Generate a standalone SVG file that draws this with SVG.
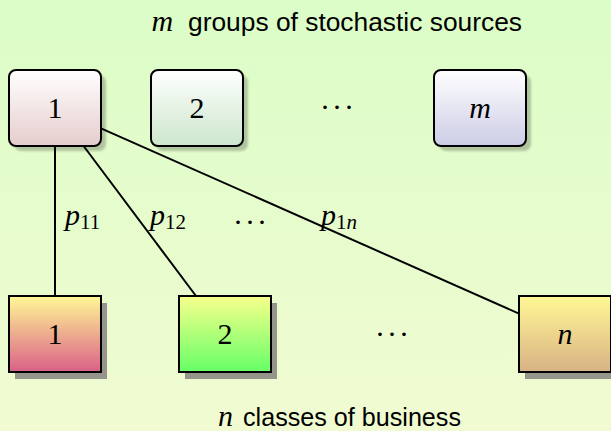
<svg xmlns="http://www.w3.org/2000/svg" width="611" height="431" viewBox="0 0 611 431">
<defs>
  <linearGradient id="bg" x1="0" y1="0" x2="0" y2="1">
    <stop offset="0" stop-color="#dbfdc7"/>
    <stop offset="1" stop-color="#f1fbd2"/>
  </linearGradient>
  <linearGradient id="gs1" x1="0" y1="0" x2="0" y2="1">
    <stop offset="0" stop-color="#ffffff"/>
    <stop offset="1" stop-color="#e6cccc"/>
  </linearGradient>
  <linearGradient id="gs2" x1="0" y1="0" x2="0" y2="1">
    <stop offset="0" stop-color="#ffffff"/>
    <stop offset="1" stop-color="#cce6cc"/>
  </linearGradient>
  <linearGradient id="gsm" x1="0" y1="0" x2="0" y2="1">
    <stop offset="0" stop-color="#ffffff"/>
    <stop offset="1" stop-color="#ccccE6"/>
  </linearGradient>
  <linearGradient id="gc1" x1="0" y1="0" x2="0" y2="1">
    <stop offset="0" stop-color="#fff895"/>
    <stop offset="1" stop-color="#da6088"/>
  </linearGradient>
  <linearGradient id="gc2" x1="0" y1="0" x2="0" y2="1">
    <stop offset="0" stop-color="#f8ff8c"/>
    <stop offset="1" stop-color="#66ff66"/>
  </linearGradient>
  <linearGradient id="gcn" x1="0" y1="0" x2="0" y2="1">
    <stop offset="0" stop-color="#fff895"/>
    <stop offset="1" stop-color="#d9b285"/>
  </linearGradient>
  <filter id="blur" x="-10%" y="-10%" width="120%" height="120%">
    <feGaussianBlur stdDeviation="1.2"/>
  </filter>
</defs>
<style>
  .src { stroke: #000; stroke-width: 2; }
  .cls { stroke: #000; stroke-width: 2; }
  .shs { fill: #000; fill-opacity: 0.22; filter: url(#blur); }
  .shc { fill: #8f8f88; fill-opacity: 0.95; }
  .num { font-family: "Liberation Serif", serif; font-size: 30px; text-anchor: middle; fill: #000; }
  .dots { font-family: "Liberation Serif", serif; font-size: 30px; text-anchor: middle; fill: #000; letter-spacing: 2px; }
  .it { font-style: italic; }
  .sans { font-family: "Liberation Sans", Arial, sans-serif; font-size: 25px; fill: #000; }
  .lab { font-family: "Liberation Serif", serif; font-size: 30px; fill: #000; font-style: italic; }
  .sub { font-size: 21px; font-style: normal; }
  .subit { font-size: 21px; font-style: italic; }
  .conn { stroke: #000; stroke-width: 2; fill: none; }
</style>
<rect x="0" y="0" width="611" height="431" fill="url(#bg)"/>

<g id="title-top">
  <text x="151.5" y="31" class="lab">m</text>
  <text x="188" y="31" class="sans" textLength="334" lengthAdjust="spacingAndGlyphs">groups of stochastic sources</text>
</g>
<g id="title-bottom">
  <text x="218" y="426" class="lab">n</text>
  <text x="243" y="426" class="sans" textLength="218" lengthAdjust="spacingAndGlyphs">classes of business</text>
</g>

<g id="source-1">
  <rect x="14" y="75" width="92" height="76" rx="7" class="shs"/>
  <rect x="9" y="70" width="92" height="76" rx="7" fill="url(#gs1)" class="src"/>
  <text x="55" y="117.5" class="num">1</text>
</g>
<g id="source-2">
  <rect x="156" y="75" width="92" height="76" rx="7" class="shs"/>
  <rect x="151" y="70" width="92" height="76" rx="7" fill="url(#gs2)" class="src"/>
  <text x="197" y="117.5" class="num">2</text>
</g>
<g id="source-dots">
  <text x="338" y="117" class="dots">···</text>
</g>
<g id="source-m">
  <rect x="439" y="75" width="92" height="76" rx="7" class="shs"/>
  <rect x="434" y="70" width="92" height="76" rx="7" fill="url(#gsm)" class="src"/>
  <text x="480" y="117.5" class="num it">m</text>
</g>

<g id="class-1">
  <rect x="15" y="303" width="92" height="76" class="shc"/>
  <rect x="9" y="296" width="92" height="76" fill="url(#gc1)" class="cls"/>
  <text x="55" y="344" class="num">1</text>
</g>
<g id="class-2">
  <rect x="185" y="303" width="92" height="76" class="shc"/>
  <rect x="179" y="296" width="92" height="76" fill="url(#gc2)" class="cls"/>
  <text x="225" y="344" class="num">2</text>
</g>
<g id="class-dots">
  <text x="393" y="344" class="dots">···</text>
</g>
<g id="class-n">
  <rect x="525" y="303" width="92" height="76" class="shc"/>
  <rect x="519" y="296" width="92" height="76" fill="url(#gcn)" class="cls"/>
  <text x="565" y="344" class="num it">n</text>
</g>

<g id="connectors">
  <line x1="55" y1="146" x2="55" y2="296" class="conn"/>
  <line x1="83.6" y1="146" x2="196" y2="296" class="conn"/>
  <line x1="101" y1="128.3" x2="519" y2="313.6" class="conn"/>
</g>

<g id="labels">
  <text x="65" y="225" class="lab">p<tspan class="sub" dy="4">11</tspan></text>
  <text x="150" y="225" class="lab">p<tspan class="sub" dy="4">12</tspan></text>
  <text x="251" y="232" class="dots">···</text>
  <text x="321" y="225" class="lab">p<tspan class="sub" dy="4">1</tspan><tspan class="subit">n</tspan></text>
</g>
</svg>
